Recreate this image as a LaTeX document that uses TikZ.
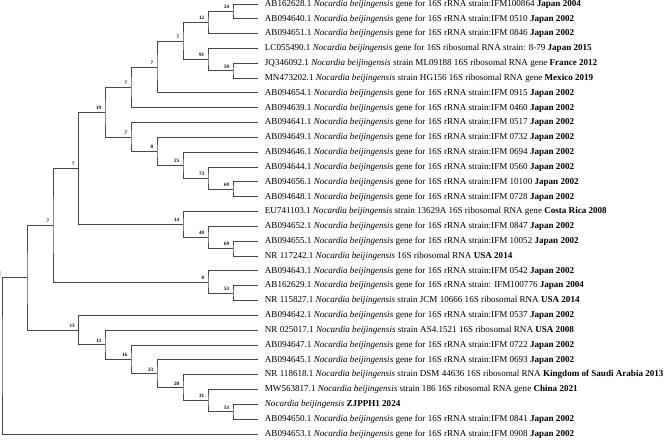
\documentclass[tikz,border=0pt]{standalone}
\usepackage{fontspec}
\setmainfont{Liberation Serif}
\newcommand\nbj{\textit{Nocardia beijingensis}}
\newcommand\jpn[2]{#1 \nbj{} gene for 16S rRNA strain:IFM #2 \textbf{Japan 2002}}
\tikzset{
  br/.style={draw=black!72, line width=0.75pt},
  lab/.style={font=\bfseries\fontsize{3.8}{4}\selectfont, anchor=south east, inner sep=0pt, xshift=-2.6pt, yshift=1.8pt},
  leaf/.style={anchor=west, inner sep=0pt, xshift=5pt, font=\fontsize{6.8}{8}\selectfont}
}
\begin{document}
\begin{tikzpicture}[x=0.75pt, y=-0.75pt]
\useasboundingbox (0,0) rectangle (669,444);
% leaf ends
\coordinate (l1) at (258,4.00);
\coordinate (l2) at (258,18.83);
\coordinate (l3) at (258,33.66);
\coordinate (l4) at (258,48.49);
\coordinate (l5) at (258,63.32);
\coordinate (l6) at (258,78.15);
\coordinate (l7) at (258,92.98);
\coordinate (l8) at (258,107.81);
\coordinate (l9) at (258,122.64);
\coordinate (l10) at (258,137.47);
\coordinate (l11) at (258,152.30);
\coordinate (l12) at (258,167.13);
\coordinate (l13) at (258,181.96);
\coordinate (l14) at (258,196.79);
\coordinate (l15) at (258,211.62);
\coordinate (l16) at (258,226.45);
\coordinate (l17) at (258,241.28);
\coordinate (l18) at (258,256.11);
\coordinate (l19) at (258,270.94);
\coordinate (l20) at (258,285.77);
\coordinate (l21) at (258,300.60);
\coordinate (l22) at (258,315.43);
\coordinate (l23) at (258,330.26);
\coordinate (l24) at (258,345.09);
\coordinate (l25) at (258,359.92);
\coordinate (l26) at (258,374.75);
\coordinate (l27) at (258,389.58);
\coordinate (l28) at (258,404.41);
\coordinate (l29) at (258,419.24);
\coordinate (l30) at (258,434.07);
% internal nodes
\coordinate (n24) at (233,11.415);
\coordinate (n12) at (208,22.54);
\coordinate (n59) at (233,70.735);
\coordinate (n91) at (208,59.61);
\coordinate (n7a) at (183,41.075);
\coordinate (n7b) at (157,67.03);
\coordinate (n7c) at (131,87.42);
\coordinate (n69a) at (233,189.375);
\coordinate (n73) at (208,178.25);
\coordinate (n25) at (183,165.275);
\coordinate (n8a) at (157,151.37);
\coordinate (n7d) at (131,137.005);
\coordinate (n19) at (105,112.21);
\coordinate (n69b) at (233,248.695);
\coordinate (n49) at (208,237.57);
\coordinate (n14) at (183,224.595);
\coordinate (n7e) at (78.5,168.40);
\coordinate (n53a) at (233,293.185);
\coordinate (n8b) at (208,282.06);
\coordinate (n7f) at (53,225.23);
\coordinate (n53b) at (233,411.825);
\coordinate (n31) at (208,400.70);
\coordinate (n20) at (183,387.725);
\coordinate (n23) at (157,373.82);
\coordinate (n16) at (131,359.455);
\coordinate (n13b) at (105,344.86);
\coordinate (n13a) at (78.5,330.145);
\coordinate (n7g) at (27,277.69);
\coordinate (root) at (2,355.88);
% branches
\draw[br] (l1) -| (n24) |- (l2);
\draw[br] (n24) -| (n12) |- (l3);
\draw[br] (l5) -| (n59) |- (l6);
\draw[br] (l4) -| (n91) |- (n59);
\draw[br] (n12) -| (n7a) |- (n91);
\draw[br] (n7a) -| (n7b) |- (l7);
\draw[br] (n7b) -| (n7c) |- (l8);
\draw[br] (l13) -| (n69a) |- (l14);
\draw[br] (l12) -| (n73) |- (n69a);
\draw[br] (l11) -| (n25) |- (n73);
\draw[br] (l10) -| (n8a) |- (n25);
\draw[br] (l9) -| (n7d) |- (n8a);
\draw[br] (n7c) -| (n19) |- (n7d);
\draw[br] (l17) -| (n69b) |- (l18);
\draw[br] (l16) -| (n49) |- (n69b);
\draw[br] (l15) -| (n14) |- (n49);
\draw[br] (n19) -| (n7e) |- (n14);
\draw[br] (l20) -| (n53a) |- (l21);
\draw[br] (l19) -| (n8b) |- (n53a);
\draw[br] (n7e) -| (n7f) |- (n8b);
\draw[br] (l28) -| (n53b) |- (l29);
\draw[br] (l27) -| (n31) |- (n53b);
\draw[br] (l26) -| (n20) |- (n31);
\draw[br] (l25) -| (n23) |- (n20);
\draw[br] (l24) -| (n16) |- (n23);
\draw[br] (l23) -| (n13b) |- (n16);
\draw[br] (l22) -| (n13a) |- (n13b);
\draw[br] (n7f) -| (n7g) |- (n13a);
\draw[br] (n7g) -| (root) |- (l30);
% bootstrap labels
\node[lab] (b24) at (n24) {24};
\node[lab] (b12) at (n12) {12};
\node[lab] (b59) at (n59) {59};
\node[lab] (b91) at (n91) {91};
\node[lab] (b7a) at (n7a) {7};
\node[lab] (b7b) at (n7b) {7};
\node[lab] (b7c) at (n7c) {7};
\node[lab] (b69a) at (n69a) {69};
\node[lab] (b73) at (n73) {73};
\node[lab] (b25) at (n25) {25};
\node[lab] (b8a) at (n8a) {8};
\node[lab] (b7d) at (n7d) {7};
\node[lab] (b19) at (n19) {19};
\node[lab] (b69b) at (n69b) {69};
\node[lab] (b49) at (n49) {49};
\node[lab] (b14) at (n14) {14};
\node[lab] (b7e) at (n7e) {7};
\node[lab] (b53a) at (n53a) {53};
\node[lab] (b8b) at (n8b) {8};
\node[lab] (b7f) at (n7f) {7};
\node[lab] (b53b) at (n53b) {53};
\node[lab] (b31) at (n31) {31};
\node[lab] (b20) at (n20) {20};
\node[lab] (b23) at (n23) {23};
\node[lab] (b16) at (n16) {16};
\node[lab] (b13b) at (n13b) {13};
\node[lab] (b13a) at (n13a) {13};
\node[lab, text=black!45, xshift=-16pt] (b7g) at (n7g) {7};
% leaf texts
\node[leaf] (t1) at (l1) {AB162628.1 \nbj{} gene for 16S rRNA strain:IFM100864 \textbf{Japan 2004}};
\node[leaf] (t2) at (l2) {\jpn{AB094640.1}{0510}};
\node[leaf] (t3) at (l3) {\jpn{AB094651.1}{0846}};
\node[leaf] (t4) at (l4) {LC055490.1 \nbj{} gene for 16S ribosomal RNA strain: 8-79 \textbf{Japan 2015}};
\node[leaf] (t5) at (l5) {JQ346092.1 \nbj{} strain ML09188 16S ribosomal RNA gene \textbf{France 2012}};
\node[leaf] (t6) at (l6) {MN473202.1 \nbj{} strain HG156 16S ribosomal RNA gene \textbf{Mexico 2019}};
\node[leaf] (t7) at (l7) {\jpn{AB094654.1}{0915}};
\node[leaf] (t8) at (l8) {\jpn{AB094639.1}{0460}};
\node[leaf] (t9) at (l9) {\jpn{AB094641.1}{0517}};
\node[leaf] (t10) at (l10) {\jpn{AB094649.1}{0732}};
\node[leaf] (t11) at (l11) {\jpn{AB094646.1}{0694}};
\node[leaf] (t12) at (l12) {\jpn{AB094644.1}{0560}};
\node[leaf] (t13) at (l13) {\jpn{AB094656.1}{10100}};
\node[leaf] (t14) at (l14) {\jpn{AB094648.1}{0728}};
\node[leaf] (t15) at (l15) {EU741103.1 \nbj{} strain 13629A 16S ribosomal RNA gene \textbf{Costa Rica 2008}};
\node[leaf] (t16) at (l16) {\jpn{AB094652.1}{0847}};
\node[leaf] (t17) at (l17) {\jpn{AB094655.1}{10052}};
\node[leaf] (t18) at (l18) {NR 117242.1 \nbj{} 16S ribosomal RNA \textbf{USA 2014}};
\node[leaf] (t19) at (l19) {\jpn{AB094643.1}{0542}};
\node[leaf] (t20) at (l20) {AB162629.1 \nbj{} gene for 16S rRNA strain: IFM100776 \textbf{Japan 2004}};
\node[leaf] (t21) at (l21) {NR 115827.1 \nbj{} strain JCM 10666 16S ribosomal RNA \textbf{USA 2014}};
\node[leaf] (t22) at (l22) {\jpn{AB094642.1}{0537}};
\node[leaf] (t23) at (l23) {NR 025017.1 \nbj{} strain AS4.1521 16S ribosomal RNA \textbf{USA 2008}};
\node[leaf] (t24) at (l24) {\jpn{AB094647.1}{0722}};
\node[leaf] (t25) at (l25) {\jpn{AB094645.1}{0693}};
\node[leaf] (t26) at (l26) {NR 118618.1 \nbj{} strain DSM 44636 16S ribosomal RNA \textbf{Kingdom of Saudi Arabia 2013}};
\node[leaf] (t27) at (l27) {MW563817.1 \nbj{} strain 186 16S ribosomal RNA gene \textbf{China 2021}};
\node[leaf] (t28) at (l28) {\nbj{} \textbf{ZJPPH1 2024}};
\node[leaf] (t29) at (l29) {\jpn{AB094650.1}{0841}};
\node[leaf] (t30) at (l30) {\jpn{AB094653.1}{0908}};
\end{tikzpicture}
\end{document}
